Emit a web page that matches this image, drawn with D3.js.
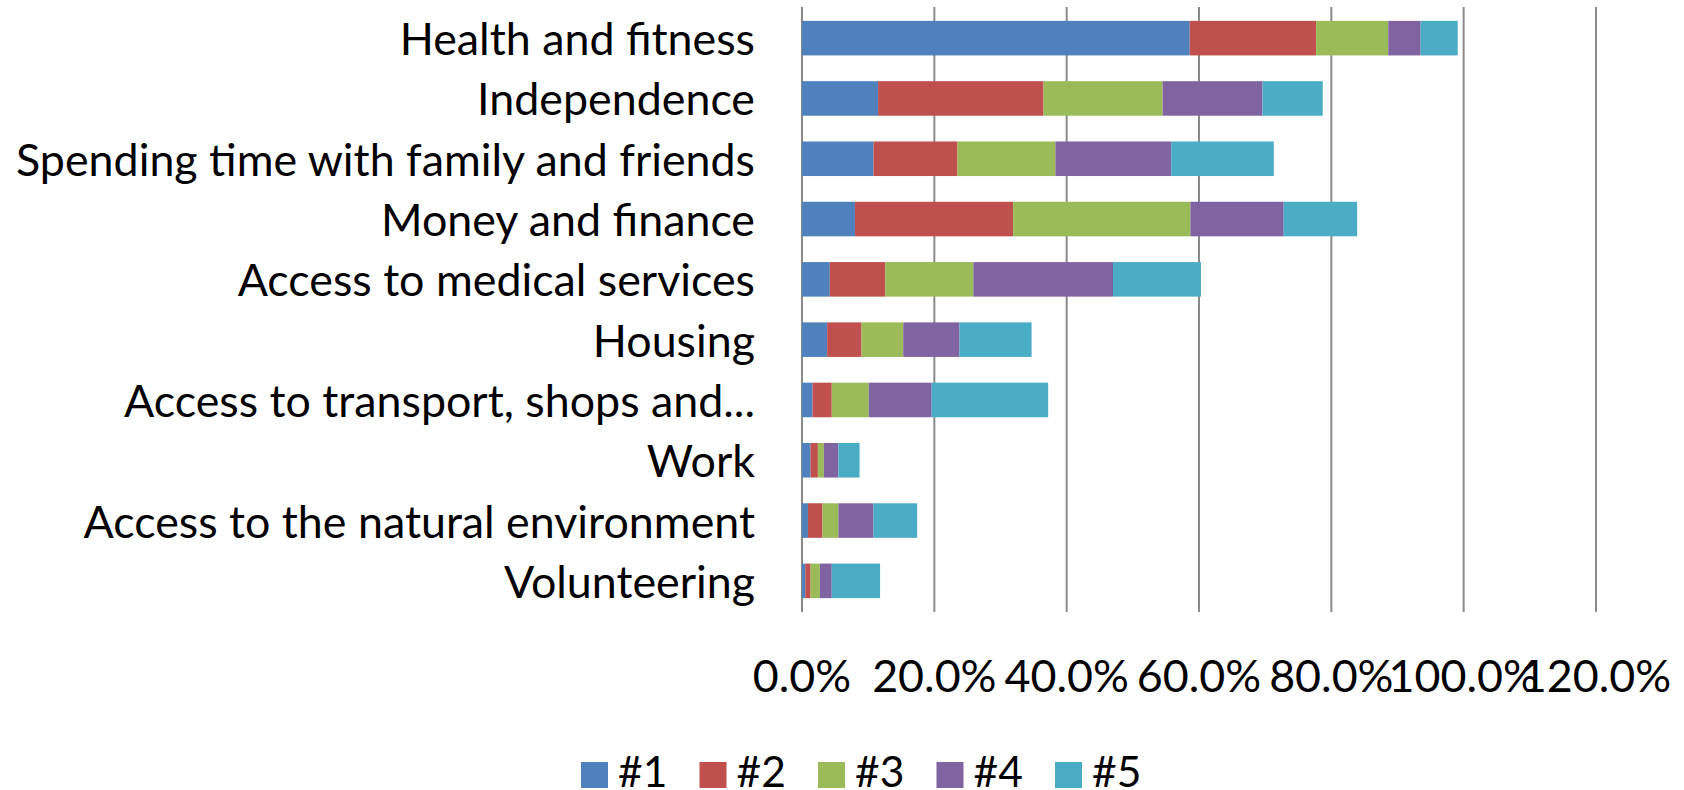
<!DOCTYPE html>
<html>
<head>
<meta charset="utf-8">
<script src="https://cdn.jsdelivr.net/npm/d3@7"></script>
<style>
  html, body { margin: 0; padding: 0; background: #fff; }
  svg { display: block; }
  text { font-family: Lato, "Open Sans", sans-serif; fill: #000; }
</style>
</head>
<body>
<div id="chart"></div>
<script>
// categories, top to bottom
const categories = [
    "Health and fitness",
    "Independence",
    "Spending time with family and friends",
    "Money and finance",
    "Access to medical services",
    "Housing",
    "Access to transport, shops and...",
    "Work",
    "Access to the natural environment",
    "Volunteering"
];

const seriesNames = ["#1", "#2", "#3", "#4", "#5"];
const seriesColors = ["#4F81BD", "#C0504D", "#9BBB59", "#8064A2", "#4BACC6"];

// share of respondents (%) per rank
const rank1 = [58.6, 11.5, 10.8, 8.0, 4.2, 3.8, 1.6, 1.3, 0.9, 0.5];
const rank2 = [19.1, 25.0, 12.7, 23.9, 8.4, 5.2, 2.9, 1.1, 2.2, 0.8];
const rank3 = [10.9, 18.0, 14.8, 26.8, 13.3, 6.3, 5.6, 0.9, 2.4, 1.4];
const rank4 = [4.9, 15.1, 17.5, 14.1, 21.1, 8.5, 9.5, 2.2, 5.3, 1.8];
const rank5 = [5.6, 9.1, 15.5, 11.1, 13.3, 10.9, 17.6, 3.2, 6.6, 7.3];

const tickValues = [0, 0.2, 0.4, 0.6, 0.8, 1.0, 1.2];

const W = 1684, H = 790;
const plot = { left: 802, right: 1596, top: 8, bottom: 611 };

const rows = categories.map((c, i) => {
    const row = { category: c };
    [rank1, rank2, rank3, rank4, rank5].forEach((s, j) => row[seriesNames[j]] = s[i] / 100);
    return row;
});

const stacked = d3.stack().keys(seriesNames)(rows);

const svg = d3.select("#chart").append("svg")
    .attr("width", W)
    .attr("height", H);

svg.append("rect").attr("width", W).attr("height", H).attr("fill", "#fff");

const x = d3.scaleLinear()
    .domain([0, 1.2])
    .range([plot.left, plot.right]);

const y = d3.scaleBand()
    .domain(categories)
    .range([plot.top, plot.bottom])
    .paddingInner(0.427)
    .paddingOuter(0.2135);

const color = d3.scaleOrdinal().domain(seriesNames).range(seriesColors);

// vertical gridlines (0% one doubles as the axis line)
svg.append("g")
    .selectAll("line")
    .data(tickValues)
    .join("line")
    .attr("x1", d => x(d))
    .attr("x2", d => x(d))
    .attr("y1", plot.top - 1)
    .attr("y2", plot.bottom + 1)
    .attr("stroke", "#8a8a8a")
    .attr("stroke-width", 2);

// stacked bars
svg.append("g")
    .selectAll("g")
    .data(stacked)
    .join("g")
    .attr("fill", d => color(d.key))
    .selectAll("rect")
    .data(d => d)
    .join("rect")
    .attr("x", d => x(d[0]))
    .attr("y", d => y(d.data.category))
    .attr("width", d => x(d[1]) - x(d[0]))
    .attr("height", y.bandwidth());

// work out a font size so the longest label fits like the original
const probe = svg.append("text").attr("font-size", 100).text(categories[2]);
const fontSize = 100 * 739 / probe.node().getComputedTextLength();
probe.remove();

// category labels
svg.append("g")
    .selectAll("text")
    .data(categories)
    .join("text")
    .attr("x", 755)
    .attr("y", d => y(d) + y.bandwidth() / 2)
    .attr("text-anchor", "end")
    .attr("dominant-baseline", "central")
    .attr("font-size", fontSize)
    .text(d => d);

// x tick labels
svg.append("g")
    .selectAll("text")
    .data(tickValues)
    .join("text")
    .attr("x", d => x(d))
    .attr("y", 675)
    .attr("text-anchor", "middle")
    .attr("dominant-baseline", "central")
    .attr("font-size", fontSize)
    .text(d => d3.format(".1%")(d));

// legend, sits right at the bottom edge like the original
const legend = svg.append("g")
    .selectAll("g")
    .data(seriesNames)
    .join("g")
    .attr("transform", (d, i) => `translate(${581 + i * 118.5}, 775)`);

legend.append("rect")
    .attr("x", 0)
    .attr("y", -13)
    .attr("width", 27)
    .attr("height", 26)
    .attr("fill", d => color(d));

legend.append("text")
    .attr("x", 37)
    .attr("y", 12)
    .attr("font-size", fontSize * 0.95)
    .text(d => d);
</script>
</body>
</html>
